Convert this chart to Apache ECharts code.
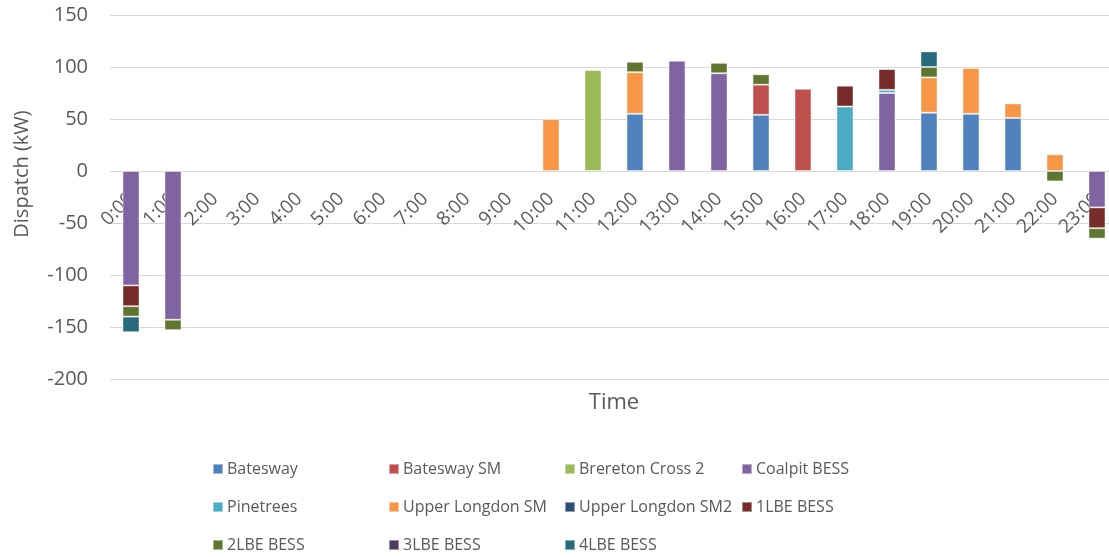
<!DOCTYPE html>
<html><head><meta charset="utf-8">
<script src="https://cdn.jsdelivr.net/npm/echarts@6/dist/echarts.min.js"></script>
<style>html,body{margin:0;padding:0;background:#fff}#c{width:1109px;height:557px}</style>
</head><body><div id="c"></div>
<script>
const categories = ['0:00','1:00','2:00','3:00','4:00','5:00','6:00','7:00','8:00','9:00','10:00','11:00','12:00','13:00','14:00','15:00','16:00','17:00','18:00','19:00','20:00','21:00','22:00','23:00'];
const seriesNames = ['Batesway','Batesway SM','Brereton Cross 2','Coalpit BESS','Pinetrees','Upper Longdon SM','Upper Longdon SM2','1LBE BESS','2LBE BESS','3LBE BESS','4LBE BESS'];
const colors = ['#4F81BD','#C0504D','#9BBB59','#8064A2','#4BACC6','#F79646','#2C4D75','#772C2A','#5F7530','#4D3B62','#276A7C'];
const N = null;
//                      0    1    2  3  4  5  6  7  8  9  10  11  12   13   14   15   16   17   18   19   20   21   22   23
const batesway      = [N,   N,   N, N, N, N, N, N, N, N, N,  N,  55,  N,   N,   54,  N,   N,   N,   56,  55,  51,  N,   N];
const batesSM       = [N,   N,   N, N, N, N, N, N, N, N, N,  N,  N,   N,   N,   29,  79,  N,   N,   N,   N,   N,   N,   N];
const brereton2     = [N,   N,   N, N, N, N, N, N, N, N, N,  97, N,   N,   N,   N,   N,   N,   N,   N,   N,   N,   N,   N];
const coalpit       = [-110,-143,N, N, N, N, N, N, N, N, N,  N,  N,   106, 94,  N,   N,   N,   75,  N,   N,   N,   N,   -35];
const pinetrees     = [N,   N,   N, N, N, N, N, N, N, N, N,  N,  N,   N,   N,   N,   N,   62,  3,   N,   N,   N,   N,   N];
const upperLongSM   = [N,   N,   N, N, N, N, N, N, N, N, 50, N,  40,  N,   N,   N,   N,   N,   N,   34,  44,  14,  16,  N];
const upperLongSM2  = [N,   N,   N, N, N, N, N, N, N, N, N,  N,  N,   N,   N,   N,   N,   N,   N,   N,   N,   N,   N,   N];
const lbe1          = [-20, N,   N, N, N, N, N, N, N, N, N,  N,  N,   N,   N,   N,   N,   20,  20,  N,   N,   N,   N,   -20];
const lbe2          = [-10, -10, N, N, N, N, N, N, N, N, N,  N,  10,  N,   10,  10,  N,   N,   N,   10,  N,   N,   -10, -10];
const lbe3          = [N,   N,   N, N, N, N, N, N, N, N, N,  N,  N,   N,   N,   N,   N,   N,   N,   N,   N,   N,   N,   N];
const lbe4          = [-15, N,   N, N, N, N, N, N, N, N, N,  N,  N,   N,   N,   N,   N,   N,   N,   15,  N,   N,   N,   N];
const yTicks = {min:-200, max:150, interval:50};

const allData = [batesway,batesSM,brereton2,coalpit,pinetrees,upperLongSM,upperLongSM2,lbe1,lbe2,lbe3,lbe4];
const FONT = 'Open Sans';
const series = seriesNames.map((n,i)=>({
  name:n, type:'bar', stack:'total', barWidth:17, data:allData[i],
  itemStyle:{color:colors[i], borderColor:'rgba(255,255,255,0.45)', borderWidth:1},
  emphasis:{disabled:true}
}));
// legend layout: 4 columns, rows of 38px
const legendCols = [212, 388, 564, 741];
const legendRowsTop = [461, 499, 537];
const legends = seriesNames.map((n,i)=>({
  data:[n], left:legendCols[i%4], top:legendRowsTop[Math.floor(i/4)], padding:0,
  itemWidth:10, itemHeight:10, itemGap:0, icon:'rect', selectedMode:false,
  textStyle:{fontFamily:FONT, fontSize:16, color:'#595959', padding:[0,0,0,-1]}
}));
// grid geometry: value range -200..150 over 364px; axis placed at value 0
const gridTop = 15, gridBottom = 178, plotH = 557 - gridTop - gridBottom;
const zeroOffset = -plotH * (0 - yTicks.min) / (yTicks.max - yTicks.min);
const chart = echarts.init(document.getElementById('c'), null, {renderer:'canvas'});
chart.setOption({
  animation:false,
  textStyle:{fontFamily:FONT},
  grid:{left:110, right:-9, top:gridTop, bottom:gridBottom, containLabel:false, outerBoundsMode:'none'},
  legend:legends,
  xAxis:{
    type:'category', data:categories, position:'bottom', offset:zeroOffset,
    axisLine:{onZero:false, lineStyle:{color:'#d9d9d9', width:1}},
    axisTick:{show:false},
    axisLabel:{rotate:45, margin:25, fontSize:19, color:'#595959', fontFamily:FONT, interval:0},
    name:'Time', nameLocation:'middle', nameGap:221,
    nameTextStyle:{fontSize:22, color:'#595959', fontFamily:FONT}
  },
  yAxis:{
    type:'value', min:yTicks.min, max:yTicks.max, interval:yTicks.interval,
    axisLine:{show:false}, axisTick:{show:false},
    splitLine:{lineStyle:{color:'#d9d9d9', width:1}},
    axisLabel:{fontSize:20, color:'#595959', margin:22, fontFamily:FONT},
    name:'Dispatch (kW)', nameLocation:'middle', nameGap:78, nameRotate:90,
    nameTextStyle:{fontSize:20, color:'#595959', fontFamily:FONT, padding:[0,0,0,46]}
  },
  series:series
});
</script></body></html>
